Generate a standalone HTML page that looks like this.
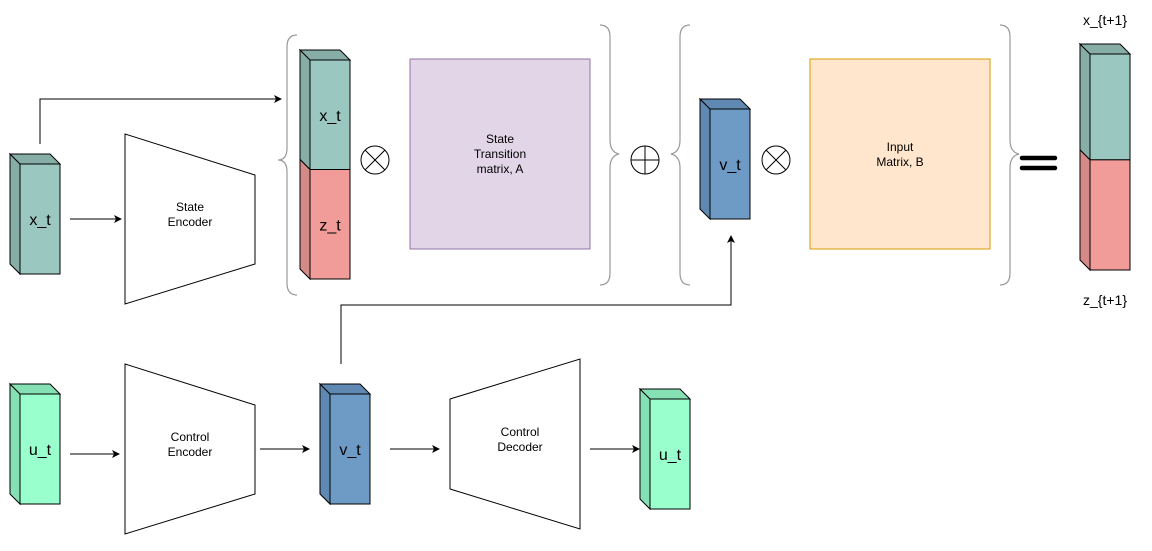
<!DOCTYPE html>
<html><head><meta charset="utf-8"><style>
html,body{margin:0;padding:0;background:#fff;}
svg{display:block;font-family:"Liberation Sans",sans-serif;}
</style></head><body>
<svg width="1152" height="551" viewBox="0 0 1152 551">
<defs>
<marker id="ah" markerWidth="8" markerHeight="8" refX="7" refY="4" orient="auto" markerUnits="userSpaceOnUse"><path d="M0,0 L8,4 L0,8 L2,4 z" fill="#000"/></marker>
</defs>
<g id="boxes"></g>
<script>
const boxes=[
 {n:'x-t-input-box',x:10,y:154,w:50,h:120,segs:[['#9ac7bf','#86ada6',1]],label:'x_t'},
 {n:'state-stack-box',x:300,y:50,w:50,h:229,segs:[['#9ac7bf','#86ada6',0.5],['#f19c99','#d48a87',0.5]],labels:['x_t','z_t']},
 {n:'v-t-top-box',x:700,y:99,w:50,h:120,segs:[['#6e9bc6','#5f88b2',1]],label:'v_t'},
 {n:'next-state-stack-box',x:1080,y:44,w:50,h:226,segs:[['#9ac7bf','#86ada6',0.49],['#f19c99','#d48a87',0.51]]},
 {n:'u-t-input-box',x:10,y:384,w:50,h:120,segs:[['#99ffcc','#85e0b3',1]],label:'u_t'},
 {n:'v-t-bottom-box',x:320,y:384,w:50,h:120,segs:[['#6e9bc6','#5f88b2',1]],label:'v_t'},
 {n:'u-t-output-box',x:640,y:389,w:50,h:120,segs:[['#99ffcc','#85e0b3',1]],label:'u_t'}
];
const g=document.getElementById('boxes');const NS='http://www.w3.org/2000/svg';
function el(t,a,p){const e=document.createElementNS(NS,t);for(const k in a)e.setAttribute(k,a[k]);(p||g).appendChild(e);return e;}
boxes.forEach(b=>{
 const grp=el('g',{});
 
 
 const d=10,fx=b.x+d,fy=b.y+d,fw=b.w-d,fh=b.h-d;
 let cy=0;const tot=b.h-d;
 b.segs.forEach((s,i)=>{
  const h=tot*s[2];
  el('polygon',{points:`${b.x},${b.y+cy} ${fx},${fy+cy} ${fx},${fy+cy+h} ${b.x},${b.y+cy+h}`,fill:s[1],stroke:'#000','stroke-width':1},grp);
  el('rect',{x:fx,y:fy+cy,width:fw,height:h,fill:s[0],stroke:'#000','stroke-width':1},grp);
  if(b.labels){const t=el('text',{x:fx+fw/2,y:fy+cy+h/2+6,'text-anchor':'middle','font-size':16},grp);t.textContent=b.labels[i];}
  cy+=h;
 });
 el('polygon',{points:`${b.x},${b.y} ${b.x+b.w-d},${b.y} ${b.x+b.w},${fy} ${fx},${fy}`,fill:b.segs[0][1],stroke:'#000','stroke-width':1},grp);
 if(b.label){const t=el('text',{x:fx+fw/2,y:fy+fh/2+6,'text-anchor':'middle','font-size':16},grp);t.textContent=b.label;}
});
</script>
<g fill="none" stroke="#000" stroke-width="1">
<polygon points="125,134 255,175 255,264 125,304" fill="#fff"/>
<polygon points="125,364 255,405 255,494 125,534" fill="#fff"/>
<polygon points="450,399 580,359 580,529 450,489" fill="#fff"/>
<rect x="410" y="59" width="180" height="190" fill="#e1d5e7" stroke="#9673a6"/>
<rect x="810" y="59" width="180" height="190" fill="#ffe6cc" stroke="#d79b00"/>
<path d="M70,219 H121" marker-end="url(#ah)"/>
<path d="M40,144 V99 H281" marker-end="url(#ah)"/>
<path d="M70,454 H119" marker-end="url(#ah)"/>
<path d="M260,449 H309" marker-end="url(#ah)"/>
<path d="M341,364 V305 H731 V236" marker-end="url(#ah)"/>
<path d="M390,449 H439" marker-end="url(#ah)"/>
<path d="M590,449 H639" marker-end="url(#ah)"/>
<g><circle cx="375" cy="160" r="14" fill="#fff"/><path d="M365,150 L385,170 M385,150 L365,170"/></g>
<g><circle cx="645" cy="160" r="14" fill="#fff"/><path d="M631,160 H659 M645,146 V174"/></g>
<g><circle cx="776" cy="160" r="14" fill="#fff"/><path d="M766,150 L786,170 M786,150 L766,170"/></g>
<g stroke="#999" stroke-width="1.2">
<path d="M297,35 Q287,35 287,47 V148 Q287,160 278,160 Q287,160 287,172 V283 Q287,295 297,295"/>
<path d="M600,25 Q610,25 610,37 V140 Q610,152 619,154 Q610,156 610,168 V273 Q610,285 600,285"/>
<path d="M690,25 Q680,25 680,37 V140 Q680,152 671,154 Q680,156 680,168 V273 Q680,285 690,285"/>
<path d="M1000,25 Q1010,25 1010,37 V140 Q1010,152 1019,154 Q1010,156 1010,168 V273 Q1010,285 1000,285"/>
</g>
<g stroke-width="4.5" stroke-linecap="round"><path d="M1022,158 H1055 M1022,168 H1055"/></g>
</g>
<g font-size="12" text-anchor="middle" fill="#000">
<text x="190" y="211">State</text>
<text x="190" y="226">Encoder</text>
<text x="190" y="441">Control</text>
<text x="190" y="456">Encoder</text>
<text x="520" y="436">Control</text>
<text x="520" y="451">Decoder</text>
<text x="500" y="143">State</text>
<text x="500" y="158">Transition</text>
<text x="500" y="173">matrix, A</text>
<text x="900" y="151">Input</text>
<text x="900" y="166">Matrix, B</text>
<text x="1105" y="25" font-size="14">x_{t+1}</text>
<text x="1105" y="305" font-size="14">z_{t+1}</text>
</g>
</svg>
</body></html>
